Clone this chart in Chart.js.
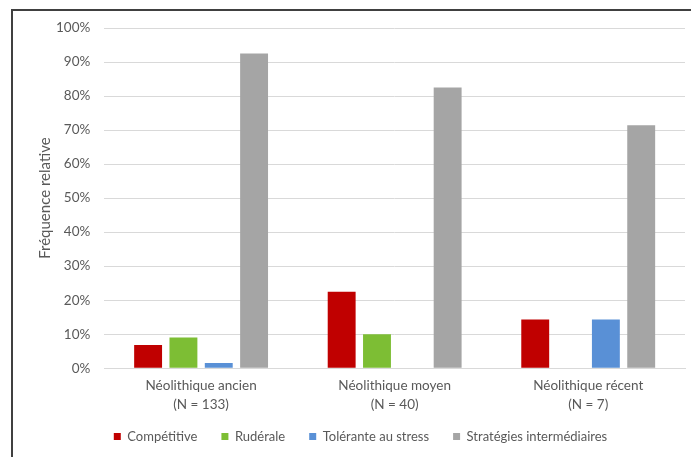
<!DOCTYPE html>
<html>
<head>
<meta charset="utf-8">
<script src="https://cdn.jsdelivr.net/npm/chart.js@4"></script>
<style>
  html, body { margin: 0; padding: 0; background: #fff; }
  #wrap { position: relative; width: 691px; height: 457px; overflow: hidden; }
  #frame { position: absolute; left: 11px; top: 9px; width: 700px; height: 470px;
           border-left: 2px solid #404040; border-top: 2px solid #404040; }
  canvas { position: absolute; left: 0; top: 0; }
</style>
</head>
<body>
<div id="wrap">
  <div id="frame"></div>
  <canvas id="chart" width="691" height="457"></canvas>
</div>
<script>
// périodes et valeurs (fréquence relative, %)
const categories = [
    ['Néolithique ancien', '(N = 133)'],
    ['Néolithique moyen', '(N = 40)'],
    ['Néolithique récent', '(N = 7)']
];
const seriesNames = ['Compétitive', 'Rudérale', 'Tolérante au stress', 'Stratégies intermédiaires'];
const competitive = [6.8, 22.5, 14.3];
const ruderale = [9.0, 10.0, 0];
const tolerante = [1.5, 0, 14.3];
const intermediaires = [92.5, 82.5, 71.4];
const colors = ['#C00000', '#7DBE34', '#5990D6', '#A5A5A5'];

const values = [competitive, ruderale, tolerante, intermediaires];
const fontFamily = 'Lato, "Open Sans", sans-serif';

// la légende prend moins de hauteur, mais garde l'espacement horizontal
const legendTweak = {
    id: 'legendTweak',
    beforeInit(chart) {
        const fit = chart.legend.fit;
        chart.legend.fit = function () {
            fit.call(this);
            this.height -= 8;
        };
    },
    afterLayout(chart) {
        chart.legend.top -= 8;
    }
};

window.onload = () => {
    const ctx = document.getElementById('chart').getContext('2d');
    new Chart(ctx, {
        type: 'bar',
        data: {
            labels: categories,
            datasets: values.map((v, i) => ({
                label: seriesNames[i],
                data: v,
                backgroundColor: colors[i],
                borderWidth: 0,
                categoryPercentage: 0.73,
                barPercentage: 0.79
            }))
        },
        options: {
            responsive: false,
            animation: false,
            layout: { padding: { top: 28, right: 6, bottom: 4, left: 36 } },
            plugins: {
                legend: {
                    position: 'bottom',
                    labels: {
                        boxWidth: 7,
                        boxHeight: 7,
                        padding: 24,
                        color: '#595959',
                        font: { family: fontFamily, size: 13 }
                    }
                },
                tooltip: { enabled: false }
            },
            scales: {
                x: {
                    grid: { display: false },
                    border: { color: '#D9D9D9' },
                    ticks: {
                        color: '#595959',
                        padding: 0,
                        font: { family: fontFamily, size: 13.5, lineHeight: 1.4 }
                    }
                },
                y: {
                    min: 0,
                    max: 100,
                    ticks: {
                        stepSize: 10,
                        padding: 14,
                        color: '#595959',
                        font: { family: fontFamily, size: 13.5 },
                        callback: v => v + '%'
                    },
                    grid: { color: '#D9D9D9', drawTicks: false },
                    border: { display: false },
                    title: {
                        display: true,
                        text: 'Fréquence relative',
                        color: '#595959',
                        padding: { top: 0, bottom: -12 },
                        font: { family: fontFamily, size: 15 }
                    }
                }
            }
        },
        plugins: [legendTweak]
    });
};
</script>
</body>
</html>
